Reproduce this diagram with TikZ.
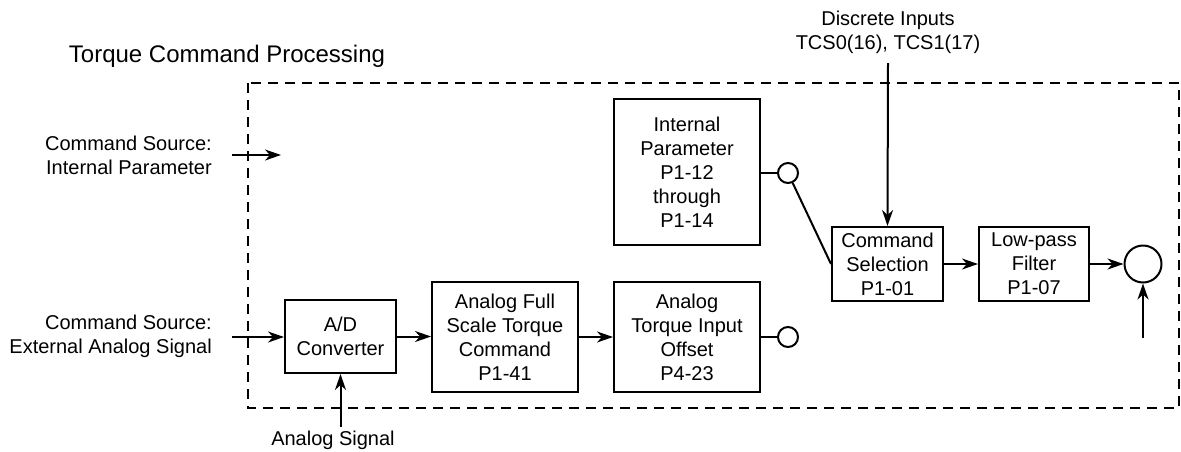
\documentclass[tikz,border=0pt]{standalone}
\usepackage{fontspec}
\setmainfont{Liberation Sans}
\usetikzlibrary{arrows.meta}
\begin{document}
\begin{tikzpicture}[x=1pt,y=-1pt,
  every node/.style={font=\fontsize{20}{24}\selectfont},
  blk/.style={draw,line width=2pt,inner sep=0pt,align=center},
  sw/.style={draw,line width=2pt,circle,inner sep=0pt,minimum size=20pt},
  lbl/.style={align=center,inner sep=0pt},
  ln/.style={line width=2pt},
  arr/.style={line width=2pt,-{Stealth[length=16pt,width=11pt,inset=5pt]}}]
\useasboundingbox (0,0) rectangle (1181,451);
% frame
\draw[line width=2pt,dash pattern=on 10pt off 7pt] (248,83) rectangle (1179,408);
% labels
\node[lbl,font=\fontsize{24}{28}\selectfont] (title) at (227,56) {Torque Command Processing};
\node[lbl] (disc) at (888,32) {Discrete Inputs\\TCS0(16), TCS1(17)};
\node[lbl,align=right,anchor=east] (cs1) at (212,155) {Command Source:\\Internal Parameter};
\node[lbl,align=right,anchor=east] (cs2) at (212,336) {Command Source:\\External Analog Signal};
\node[lbl] (asig) at (333,440) {Analog Signal};
% blocks
\node[blk,minimum width=146pt,minimum height=146pt] (ip) at (687,172) {Internal\\Parameter\\P1-12\\through\\P1-14};
\node[blk,minimum width=111pt,minimum height=74pt] (sel) at (887.5,264) {Command\\Selection\\P1-01};
\node[blk,minimum width=110pt,minimum height=74pt] (lpf) at (1034,264) {Low-pass\\Filter\\P1-07};
\node[blk,minimum width=111pt,minimum height=73pt] (ad) at (340.5,336.5) {A/D\\Converter};
\node[blk,minimum width=146pt,minimum height=110pt] (afs) at (505,337) {Analog Full\\Scale Torque\\Command\\P1-41};
\node[blk,minimum width=146pt,minimum height=110pt] (off) at (687,337) {Analog\\Torque Input\\Offset\\P4-23};
% switch contacts and summing circle
\node[sw] (c1) at (788,173) {};
\node[sw] (c2) at (788,337) {};
\node[sw,minimum size=37pt] (sum) at (1143,264) {};
% free ends
\coordinate (in1s) at (232,155);
\coordinate (in1e) at (281,155);
\coordinate (in2s) at (232,337);
\coordinate (asigs) at (340.5,427);
\coordinate (discs) at (888,63);
\coordinate (sums) at (1143,338);
% connectors
\draw[arr] (in1s) -- (in1e);
\draw[arr] (in2s) -- (in2s -| ad.west);
\draw[arr] (asigs) -- (ad.south);
\draw[arr] (ad.east) -- (afs.west |- ad.east);
\draw[arr] (afs.east) -- (off.west);
\draw[ln] (off.east) -- (c2);
\draw[ln] (ip.east |- c1) -- (c1);
\draw[ln] (sel.west) -- (c1);
\draw[arr] (discs) -- (sel.north);
\draw[arr] (sel.east) -- (lpf.west);
\draw[arr] (lpf.east) -- (sum.west);
\draw[arr] (sums) -- (sum.south);
\end{tikzpicture}
\end{document}
